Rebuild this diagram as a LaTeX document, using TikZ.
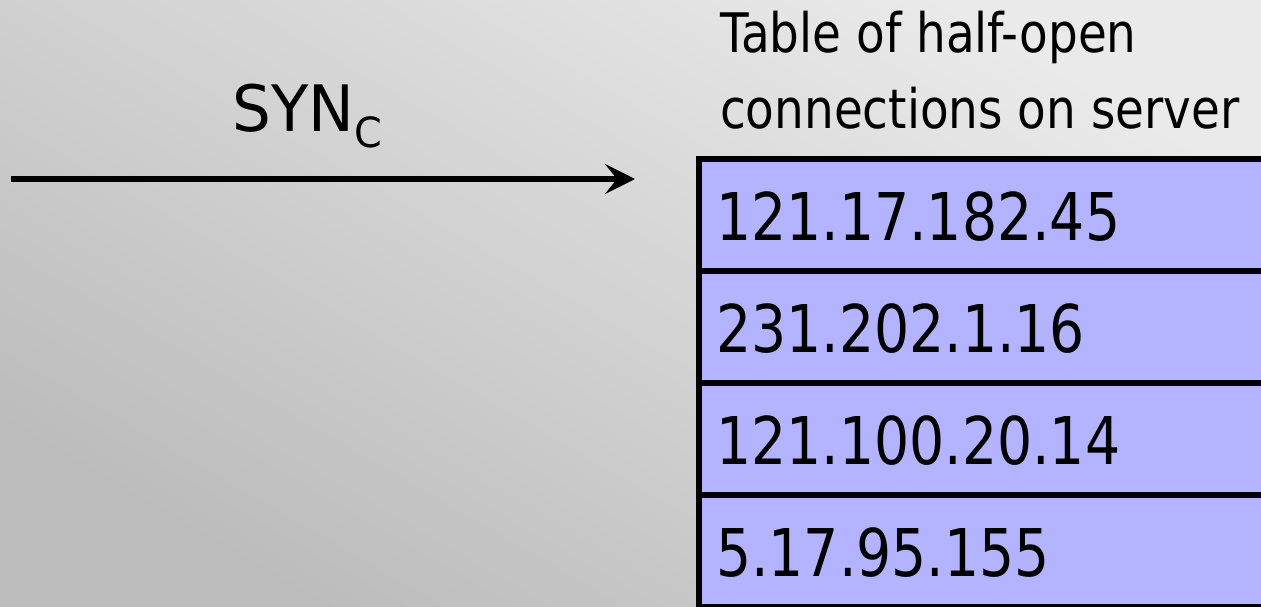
\documentclass[tikz,border=0pt]{standalone}
\usepackage{fontspec}
\setmainfont{DejaVu Sans}
\newfontfamily\labelfont[FakeStretch=0.86]{DejaVu Sans}
\newfontfamily\addrfont[FakeStretch=0.84]{DejaVu Sans}
\newfontfamily\synfont[FakeStretch=0.955]{DejaVu Sans}
\usetikzlibrary{arrows.meta}
\definecolor{rowfill}{RGB}{179,179,255}
\definecolor{bgdark}{RGB}{188,188,188}
\definecolor{bglight}{RGB}{234,234,234}

\begin{document}
\begin{tikzpicture}[x=1pt,y=-1pt,
  rowbox/.style={draw=black, line width=6pt, fill=rowfill, anchor=north west,
    outer sep=0pt, inner xsep=17pt, inner ysep=0pt, text width=532pt, align=left,
    text height=81.7pt, text depth=30.3pt,
    font=\addrfont\fontsize{65.8}{70}\selectfont},
  caption/.style={anchor=base west, inner sep=0pt,
    font=\labelfont\fontsize{54.5}{60}\selectfont},
  synlabel/.style={anchor=base west, inner sep=0pt,
    font=\synfont\fontsize{64}{70}\selectfont},
  msgarrow/.style={line width=6pt, -{Stealth[length=30pt,width=30pt,inset=12pt]}}]

  % page area and background
  \useasboundingbox (0,0) rectangle (1261,606);
  \clip (0,0) rectangle (1261,606);
  \shade[shading=axis, top color=bglight, bottom color=bgdark, shading angle=-30]
    (0,0) rectangle (1261,606);

  % incoming SYN message
  \coordinate (src) at (11,179);
  \coordinate (dst) at (635,179);
  \draw[msgarrow] (src) -- (dst);
  \node[synlabel] (syn) at (232,131.7)
    {SYN\raisebox{-15.3pt}{\fontsize{41.6}{42}\selectfont C}};

  % table heading
  \node[caption] (cap1) at (720,52.3) {Table of half-open};
  \node[caption] (cap2) at (720,128.3) {connections on server};

  % table of half-open connections
  \node[rowbox] (row1) at (699,159) {121.17.182.45};
  \node[rowbox] (row2) at (row1.south west) {231.202.1.16};
  \node[rowbox] (row3) at (row2.south west) {121.100.20.14};
  \node[rowbox] (row4) at (row3.south west) {5.17.95.155};
\end{tikzpicture}
\end{document}
